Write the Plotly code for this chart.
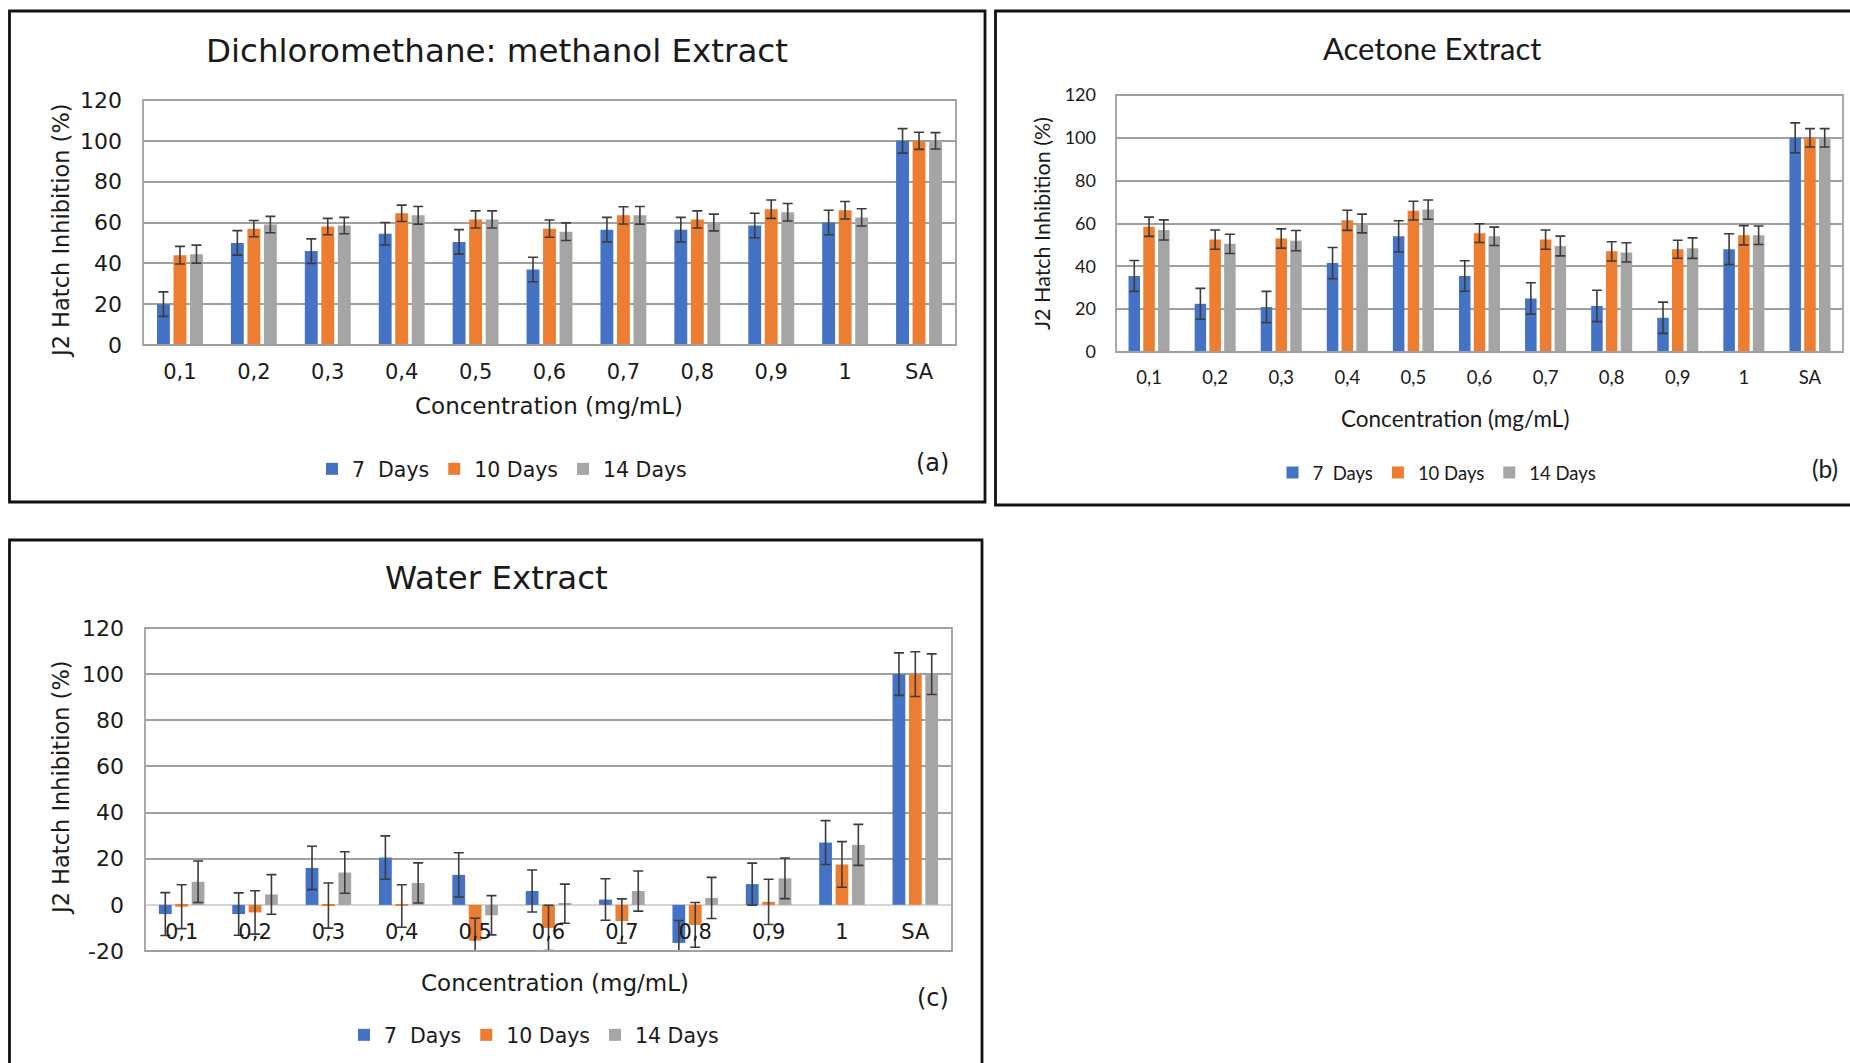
import plotly.graph_objects as go

# ---------------------------------------------------------------- data
categories = ["0,1", "0,2", "0,3", "0,4", "0,5", "0,6", "0,7", "0,8", "0,9", "1", "SA"]
series_names = ["7\u00a0 Days", "10 Days", "14 Days"]
series_colors = ["#4472C4", "#ED7D31", "#A5A5A5"]
y_ticks = [-20, 0, 20, 40, 60, 80, 100, 120]
y_tick_labels = ["-20", "0", "20", "40", "60", "80", "100", "120"]

# Dichloromethane: methanol extract (% inhibition, mean and error)
dcm_7d = [20, 50, 46, 54.5, 50.5, 37, 56.5, 56.5, 58.5, 60, 100]
dcm_10d = [44, 57, 58, 64.5, 61.5, 57, 63.5, 61.5, 66.5, 66, 100]
dcm_14d = [44.5, 59, 58.5, 63.5, 61.5, 55.5, 63.5, 60, 65, 62.5, 100]
dcm_7d_err = [6, 6, 6, 5.5, 6, 6, 6, 6, 6, 6, 6]
dcm_10d_err = [4.3, 4, 4, 4, 4.2, 4.2, 4.2, 4.2, 4.5, 4.3, 4.2]
dcm_14d_err = [4.4, 4, 4, 4.3, 4.2, 4.3, 4.3, 4.1, 4.3, 4.2, 4]

# Acetone extract
ace_7d = [35.5, 22.5, 21, 41.5, 54, 35.5, 25, 21.5, 16, 48, 100]
ace_10d = [58.5, 52.5, 53, 61.5, 66, 55.5, 52.5, 47, 48, 54.5, 100]
ace_14d = [57, 50.5, 52, 60, 66.5, 54, 49.5, 46.5, 48.5, 54.5, 100]
ace_7d_err = [7.2, 7.2, 7.3, 7.3, 7.3, 7.1, 7.3, 7.3, 7.3, 7.2, 7]
ace_10d_err = [4.5, 4.5, 4.5, 4.7, 4.4, 4.4, 4.5, 4.5, 4.2, 4.5, 4.3]
ace_14d_err = [4.7, 4.5, 4.7, 4.4, 4.5, 4.3, 4.6, 4.5, 4.8, 4.3, 4.3]

# Water extract
wat_7d = [-4, -4, 16, 20.5, 13, 6, 2.3, -16.5, 9, 27, 100]
wat_10d = [-0.8, -3.3, -0.3, -0.5, -15.5, -10, -7, -8.7, 1.3, 17.5, 100]
wat_14d = [10, 4.5, 14, 9.5, -4.5, 0.5, 6, 3, 11.5, 26, 100]
wat_7d_err = [9.3, 9.2, 9.4, 9.4, 9.6, 9.1, 9, 9.7, 9.1, 9.5, 9.2]
wat_10d_err = [9.5, 9.4, 9.8, 9.2, 9.7, 9.8, 9.6, 9.7, 9.8, 9.9, 9.7]
wat_14d_err = [9, 8.6, 9, 8.7, 8.5, 8.5, 8.7, 8.9, 8.8, 8.9, 8.8]

# ---------------------------------------------------------------- layout helpers
W, H = 1850, 1063


def fx(px):
    return px / W


def fy(py):
    return 1 - py / H


ARIAL_LIKE = "DejaVu Sans"
CALIBRI_LIKE = "Lato"
TXT = "#1a1a1a"
GRID = "#a0a0a0"
ERR = "#3c3c3c"

panels = [
    dict(key="", title="Dichloromethane: methanol Extract", tag="(a)",
         box=(143, 100, 956, 345), yr=[0, 120],
         values=(dcm_7d, dcm_10d, dcm_14d), errors=(dcm_7d_err, dcm_10d_err, dcm_14d_err),
         font=ARIAL_LIKE, title_size=32.5, ytick_size=22, xtick_size=21, axis_size=22.5, xt_size=23,
         leg_size=20.5, tag_size=24, ystand=20, xstand=12,
         title_xy=(497, 51), xt_xy=(549, 406), yt_xy=(61, 231), tag_xy=(933, 463), leg_xy=(502, 469),
         frame=(9.5, 11, 985, 502)),
    dict(key="2", title="Acetone Extract", tag="(b)",
         box=(1116, 95, 1843, 352), yr=[0, 120],
         values=(ace_7d, ace_10d, ace_14d), errors=(ace_7d_err, ace_10d_err, ace_14d_err),
         font=CALIBRI_LIKE, title_size=31, ytick_size=18, xtick_size=18.5, axis_size=21.5, xt_size=22.5,
         leg_size=18.5, tag_size=24.5, ystand=19, xstand=12,
         title_xy=(1432, 48), xt_xy=(1455, 418), yt_xy=(1042, 224), tag_xy=(1825, 468), leg_xy=(1437, 473),
         frame=(995.5, 11, 1860, 505)),
    dict(key="3", title="Water Extract", tag="(c)",
         box=(145, 628, 952, 951), yr=[-20, 120],
         values=(wat_7d, wat_10d, wat_14d), errors=(wat_7d_err, wat_10d_err, wat_14d_err),
         font=ARIAL_LIKE, title_size=32.5, ytick_size=22, xtick_size=21, axis_size=22.5, xt_size=23,
         leg_size=20.5, tag_size=24, ystand=20, xstand=12,
         title_xy=(497, 578), xt_xy=(555, 983), yt_xy=(61, 788), tag_xy=(933, 998), leg_xy=(534, 1035),
         frame=(9.5, 540, 982, 1075)),
]

fig = go.Figure()
layout = dict(
    width=W, height=H,
    margin=dict(l=0, r=0, t=0, b=0, autoexpand=False),
    paper_bgcolor="white", plot_bgcolor="white",
    barmode="group", bargap=0.33, bargroupgap=0.22,
    showlegend=True,
)
annotations = []
shapes = []

for p in panels:
    k = p["key"]
    xa, ya = "x" + k, "y" + k
    legend_name = "legend" + k
    x0, y0, x1, y1 = p["box"]
    ydom = [fy(y1), fy(y0)]

    for name, color, vals, errs in zip(series_names, series_colors, p["values"], p["errors"]):
        fig.add_trace(go.Bar(
            x=categories, y=vals, name=name, xaxis=xa, yaxis=ya,
            marker=dict(color=color, line=dict(width=0)),
            error_y=dict(type="data", array=errs, visible=True,
                         color=ERR, thickness=1.6, width=5),
            legend=legend_name,
        ))

    xaxis = dict(
        domain=[fx(x0), fx(x1)], anchor=ya, type="category",
        range=[-0.5, len(categories) - 0.5], automargin=False,
        showgrid=False, zeroline=False, showline=False, ticks="",
        tickfont=dict(family=p["font"], size=p["xtick_size"], color=TXT),
        ticklabelstandoff=p["xstand"],
    )
    if p["yr"][0] < 0:
        # category labels sit next to the zero line, inside the plot area
        zero_frac = ydom[0] + (0 - p["yr"][0]) / (p["yr"][1] - p["yr"][0]) * (ydom[1] - ydom[0])
        xaxis.update(anchor="free", position=zero_frac)
    layout["xaxis" + k] = xaxis

    shown = [(v, t) for v, t in zip(y_ticks, y_tick_labels) if p["yr"][0] <= v <= p["yr"][1]]
    layout["yaxis" + k] = dict(
        domain=ydom, anchor=xa, range=p["yr"], automargin=False,
        tickmode="array", tickvals=[v for v, _ in shown], ticktext=[t for _, t in shown],
        showgrid=True, gridcolor=GRID, gridwidth=1.8,
        zeroline=p["yr"][0] < 0, zerolinecolor="#d6d6d6", zerolinewidth=1.8,
        showline=False, ticks="",
        tickfont=dict(family=p["font"], size=p["ytick_size"], color=TXT),
        ticklabelstandoff=p["ystand"],
    )
    layout[legend_name] = dict(
        orientation="h", x=fx(p["leg_xy"][0]), y=fy(p["leg_xy"][1]),
        xanchor="center", yanchor="middle", bgcolor="rgba(0,0,0,0)",
        font=dict(family=p["font"], size=p["leg_size"], color=TXT),
        itemwidth=30, tracegroupgap=0,
    )

    # plot-area frame
    shapes.append(dict(type="rect", xref=xa + " domain", yref=ya + " domain",
                       x0=0, y0=0, x1=1, y1=1, line=dict(color=GRID, width=1.8), layer="above"))
    # chart frame
    fx0, fy0, fx1, fy1 = p["frame"]
    shapes.append(dict(type="rect", xref="paper", yref="paper",
                       x0=fx(fx0), x1=fx(fx1), y0=fy(fy1), y1=fy(fy0),
                       line=dict(color="#111111", width=2.8)))

    annotations += [
        dict(text=p["title"], x=fx(p["title_xy"][0]), y=fy(p["title_xy"][1]),
             xref="paper", yref="paper", showarrow=False, xanchor="center", yanchor="middle",
             font=dict(family=p["font"], size=p["title_size"], color=TXT)),
        dict(text="Concentration (mg/mL)", x=fx(p["xt_xy"][0]), y=fy(p["xt_xy"][1]),
             xref="paper", yref="paper", showarrow=False, xanchor="center", yanchor="middle",
             font=dict(family=p["font"], size=p["xt_size"], color=TXT)),
        dict(text="J2 Hatch Inhibition (%)", x=fx(p["yt_xy"][0]), y=fy(p["yt_xy"][1]),
             xref="paper", yref="paper", showarrow=False, xanchor="center", yanchor="middle",
             textangle=-90, font=dict(family=p["font"], size=p["axis_size"], color=TXT)),
        dict(text=p["tag"], x=fx(p["tag_xy"][0]), y=fy(p["tag_xy"][1]),
             xref="paper", yref="paper", showarrow=False, xanchor="center", yanchor="middle",
             font=dict(family=p["font"], size=p["tag_size"], color=TXT)),
    ]

layout["annotations"] = annotations
layout["shapes"] = shapes
fig.update_layout(**layout)

fig.write_html("out.html")
